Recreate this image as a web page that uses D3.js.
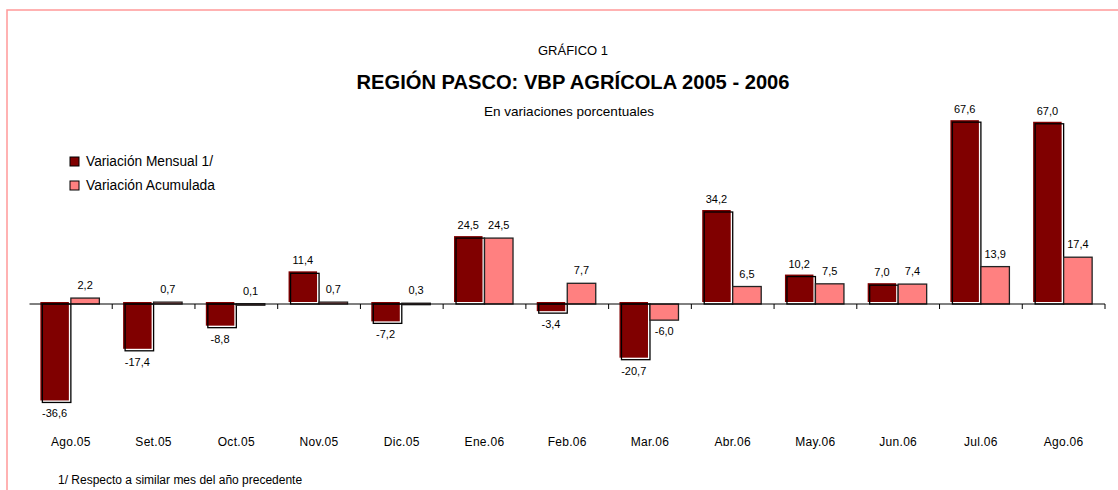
<!DOCTYPE html>
<html><head><meta charset="utf-8">
<script src="https://cdn.jsdelivr.net/npm/d3@7"></script>
<style>
body{margin:0;background:#fff;}
text{font-family:"Liberation Sans",Arial,sans-serif;fill:#000;}
.narrow{font-family:"Liberation Sans Narrow","Arial Narrow","Liberation Sans",sans-serif;}
</style></head>
<body><svg id="c" width="1118" height="490"></svg>
<script>
const categories = ["Ago.05","Set.05","Oct.05","Nov.05","Dic.05","Ene.06","Feb.06","Mar.06","Abr.06","May.06","Jun.06","Jul.06","Ago.06"];
const mensual = [-36.6,-17.4,-8.8,11.4,-7.2,24.5,-3.4,-20.7,34.2,10.2,7.0,67.6,67.0];
const acumulada = [2.2,0.7,0.1,0.7,0.3,24.5,7.7,-6.0,6.5,7.5,7.4,13.9,17.4];
const seriesNames = ["Variación Mensual 1/","Variación Acumulada"];
const colors = ["#800000","#ff8080"];

const svg = d3.select("#c");
// frame
svg.append("rect").attr("x",7).attr("y",10).attr("width",1130).attr("height",500)
  .attr("fill","none").attr("stroke","#ff9999").attr("stroke-width",1.5);

const x = d3.scaleBand().domain(categories).range([29.5,1105]).padding(0);
const y = d3.scaleLinear().domain([-40,70]).range([304+40*2.69,304-70*2.69]);
const bw = 28.5;
const fmt = v => v.toFixed(1).replace(".",",");

// titles
svg.append("text").attr("class","narrow").attr("x",573).attr("y",55).attr("text-anchor","middle")
  .attr("font-size",13).attr("textLength",70).attr("lengthAdjust","spacingAndGlyphs").text("GRÁFICO 1");
svg.append("text").attr("class","narrow").attr("x",573).attr("y",89).attr("text-anchor","middle")
  .attr("font-size",21).attr("font-weight","bold").attr("textLength",433).attr("lengthAdjust","spacingAndGlyphs")
  .text("REGIÓN PASCO: VBP AGRÍCOLA 2005 - 2006");
svg.append("text").attr("class","narrow").attr("x",569).attr("y",116).attr("text-anchor","middle")
  .attr("font-size",13).attr("textLength",170).attr("lengthAdjust","spacingAndGlyphs").text("En variaciones porcentuales");

// bars
const g = svg.append("g");
categories.forEach((c,i)=>{
  const cx = x(c)+x.bandwidth()/2;
  [mensual[i],acumulada[i]].forEach((v,k)=>{
    const x0 = k===0 ? cx-bw : cx;
    const y0 = Math.min(y(v),y(0)), h = Math.abs(y(v)-y(0));
    if(k===0){
      g.append("rect").attr("x",x0-2).attr("y",y0-2).attr("width",bw).attr("height",h).attr("fill",colors[0]);
      g.append("rect").attr("x",x0).attr("y",y0).attr("width",bw).attr("height",h)
        .attr("fill","none").attr("stroke","#000").attr("stroke-width",1.3);
    } else {
      g.append("rect").attr("x",x0).attr("y",y0).attr("width",bw).attr("height",Math.max(h,1.5)).attr("fill",colors[1])
        .attr("stroke","#222").attr("stroke-width",1.3);
    }
    const lx = x0 + bw/2 - (k===0?2:0);
    svg.append("text").attr("x",lx).attr("y", v>=0 ? y(v)-9 : y(v)+15)
      .attr("text-anchor","middle").attr("font-size",11).text(fmt(v));
  });
});

// axis
const axis = d3.axisBottom(x).tickSize(0).tickFormat("");
const ag = svg.append("g").attr("transform","translate(0,304)").call(axis);
ag.select(".domain").attr("stroke","#000").attr("d","M29.5,0H1105");
categories.forEach(c=>{
  const xe = x(c)+x.bandwidth();
  ag.append("line").attr("x1",xe).attr("x2",xe).attr("y1",0).attr("y2",5).attr("stroke","#000");
});
categories.forEach(c=>{
  svg.append("text").attr("x",x(c)+x.bandwidth()/2).attr("y",446).attr("text-anchor","middle")
    .attr("font-size",12).attr("letter-spacing",0.3).text(c);
});

// legend
seriesNames.forEach((s,i)=>{
  const ly = 157+i*24;
  svg.append("rect").attr("x",70).attr("y",ly).attr("width",9).attr("height",9)
    .attr("fill",colors[i]).attr("stroke","#000").attr("stroke-width",1);
  svg.append("text").attr("class","narrow").attr("x",86).attr("y",ly+9).attr("font-size",14)
    .attr("textLength", i===0?127:129).attr("lengthAdjust","spacingAndGlyphs").text(s);
});

// footnote
svg.append("text").attr("x",58).attr("y",484).attr("font-size",12).text("1/ Respecto a similar mes del año precedente");
</script></body></html>
